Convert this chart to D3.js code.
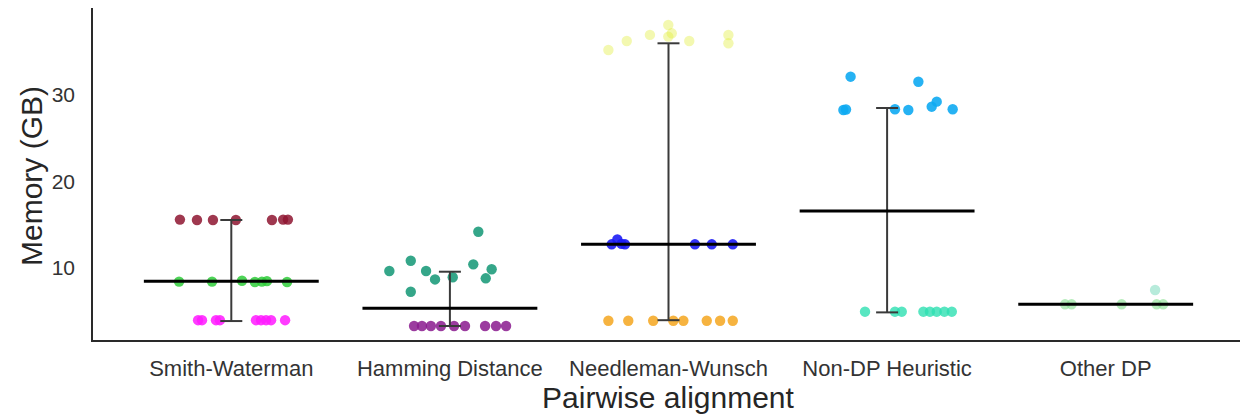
<!DOCTYPE html>
<html>
<head>
<meta charset="utf-8">
<script src="https://cdn.jsdelivr.net/npm/d3@7"></script>
<style>
  html, body { margin: 0; padding: 0; background: #ffffff; }
  svg { display: block; font-family: "Liberation Sans", Arial, sans-serif; }
</style>
</head>
<body>
<svg id="chart" width="1244" height="418"></svg>
<script>
// ---------- data ----------
const categories = ["Smith-Waterman", "Hamming Distance", "Needleman-Wunsch", "Non-DP Heuristic", "Other DP"];
const yTicks = [10, 20, 30];
const xTitle = "Pairwise alignment";
const yTitle = "Memory (GB)";

// central (median) value and whisker ends per category
const medians   = [8.5, 5.37, 12.75, 16.59, 5.83];
const whiskLow  = [3.9, 3.33, 4.0, 4.9, 5.83];
const whiskHigh = [15.55, 9.59, 35.93, 28.47, 5.83];

// individual points: [jitter (fraction of band), memory GB]
const swHigh = [[-0.235, 15.6], [-0.157, 15.55], [-0.084, 15.55], [0.021, 15.55], [0.186, 15.55], [0.237, 15.6], [0.259, 15.6]];
const swMid  = [[-0.239, 8.45], [-0.088, 8.45], [0.049, 8.55], [0.108, 8.4], [0.14, 8.45], [0.163, 8.5], [0.255, 8.4]];
const swLow  = [[-0.152, 4.0], [-0.134, 4.0], [-0.07, 4.0], [-0.052, 4.0], [0.113, 4.0], [0.136, 4.0], [0.159, 4.0], [0.182, 4.0], [0.246, 4.0]];

const hdHigh = [[-0.277, 9.67], [-0.179, 10.86], [-0.109, 9.67], [-0.068, 8.7], [-0.179, 7.28], [0.013, 8.95], [0.107, 10.44], [0.13, 14.2], [0.191, 9.87], [0.164, 8.83]];
const hdLow  = [[-0.164, 3.33], [-0.128, 3.33], [-0.087, 3.33], [-0.041, 3.33], [0.019, 3.33], [0.069, 3.33], [0.161, 3.33], [0.211, 3.33], [0.257, 3.33]];

const nwHigh = [[-0.275, 35.16], [-0.191, 36.2], [-0.085, 36.9], [-0.001, 38.04], [-0.001, 36.7], [0.015, 37.08], [0.095, 36.2], [0.274, 35.93], [0.274, 36.89]];
const nwMid  = [[-0.26, 12.75], [-0.234, 13.3], [-0.199, 12.75], [-0.215, 12.8], [0.121, 12.75], [0.198, 12.75], [0.294, 12.75]];
const nwLow  = [[-0.275, 3.94], [-0.184, 3.94], [-0.07, 3.94], [0.022, 3.94], [0.068, 3.94], [0.175, 3.94], [0.236, 3.94], [0.294, 3.94]];

const ndHigh = [[-0.167, 32.08], [0.143, 31.5], [-0.2, 28.24], [-0.188, 28.3], [0.036, 28.32], [0.097, 28.24], [0.204, 28.62], [0.227, 29.2], [0.3, 28.32]];
const ndLow  = [[-0.101, 4.98], [0.036, 4.98], [0.067, 4.98], [0.166, 4.98], [0.196, 4.98], [0.227, 4.98], [0.262, 4.98], [0.296, 4.98]];

const odMid  = [[-0.186, 5.83], [-0.156, 5.83], [0.073, 5.83], [0.233, 5.83], [0.263, 5.83]];
const odHigh = [[0.226, 7.48]];

const seriesNames = ["swHigh", "swMid", "swLow", "hdHigh", "hdLow", "nwHigh", "nwMid", "nwLow", "ndHigh", "ndLow", "odMid", "odHigh"];
const seriesCat   = [0, 0, 0, 1, 1, 2, 2, 2, 3, 3, 4, 4];
const seriesData  = [swHigh, swMid, swLow, hdHigh, hdLow, nwHigh, nwMid, nwLow, ndHigh, ndLow, odMid, odHigh];

// ---------- styles ----------
const seriesColor = {
  swHigh: "#8e1530", swMid: "#2fcc3a", swLow: "#ff1aff",
  hdHigh: "#1f9c7c", hdLow: "#8a1a8e",
  nwHigh: "#e2ee3a", nwMid: "#1c1cf5", nwLow: "#f4a010",
  ndHigh: "#0eaaf2", ndLow: "#2ee0b2",
  odMid: "#86e08e", odHigh: "#6fd8b8"
};
const seriesOpacity = {
  swHigh: 0.85, swMid: 0.85, swLow: 0.85, hdHigh: 0.9, hdLow: 0.85,
  nwHigh: 0.4, nwMid: 0.9, nwLow: 0.8, ndHigh: 0.9, ndLow: 0.8,
  odMid: 0.6, odHigh: 0.5
};

// ---------- layout ----------
const svg = d3.select("#chart");
const axisLeftX = 92, axisBottomY = 341, axisTopY = 8, axisRightX = 1240;

const x = d3.scaleBand().domain(categories).range([122, 1215]).paddingInner(0).paddingOuter(0);
const y = d3.scaleLinear().domain([1.6, 40]).range([axisBottomY, axisTopY]);
const bw = x.bandwidth();
const cx = i => x(categories[i]) + bw / 2;

// points
seriesNames.forEach((name, si) => {
  svg.append("g").selectAll("circle")
    .data(seriesData[si])
    .enter().append("circle")
    .attr("cx", d => cx(seriesCat[si]) + d[0] * bw)
    .attr("cy", d => y(d[1]))
    .attr("r", 5.2)
    .attr("fill", seriesColor[name])
    .attr("fill-opacity", seriesOpacity[name]);
});

// whiskers
const wg = svg.append("g");
categories.forEach((c, i) => {
  if (whiskHigh[i] - whiskLow[i] < 0.01) return;
  const xc = cx(i);
  wg.append("line").attr("x1", xc).attr("x2", xc).attr("y1", y(whiskLow[i])).attr("y2", y(whiskHigh[i]))
    .attr("stroke", "#3a3a3a").attr("stroke-width", 2);
  [whiskLow[i], whiskHigh[i]].forEach(v => {
    wg.append("line").attr("x1", xc - 11).attr("x2", xc + 11).attr("y1", y(v)).attr("y2", y(v))
      .attr("stroke", "#3a3a3a").attr("stroke-width", 2);
  });
});

// median lines
svg.append("g").selectAll("line")
  .data(medians)
  .enter().append("line")
  .attr("x1", (d, i) => cx(i) - 0.4 * bw)
  .attr("x2", (d, i) => cx(i) + 0.4 * bw)
  .attr("y1", d => y(d)).attr("y2", d => y(d))
  .attr("stroke", "#000").attr("stroke-width", 3);

// axes
const yAxis = d3.axisLeft(y).tickValues(yTicks).tickSize(0).tickPadding(17);
const gy = svg.append("g").attr("transform", `translate(${axisLeftX},0)`).call(yAxis);
gy.select(".domain").remove();
gy.selectAll("text").attr("font-size", 21).attr("fill", "#333").attr("font-family", "Liberation Sans, Arial, sans-serif");

const xAxis = d3.axisBottom(x).tickSize(0).tickPadding(19);
const gx = svg.append("g").attr("transform", `translate(0,${axisBottomY})`).call(xAxis);
gx.select(".domain").remove();
gx.selectAll("text").attr("font-size", 22).attr("fill", "#333").attr("font-family", "Liberation Sans, Arial, sans-serif");

// spines
svg.append("line").attr("x1", axisLeftX).attr("x2", axisLeftX).attr("y1", axisTopY).attr("y2", axisBottomY)
  .attr("stroke", "#2a2a2a").attr("stroke-width", 2);
svg.append("line").attr("x1", axisLeftX - 1).attr("x2", axisRightX).attr("y1", axisBottomY).attr("y2", axisBottomY)
  .attr("stroke", "#2a2a2a").attr("stroke-width", 2);

// titles
svg.append("text").attr("x", 668).attr("y", 408).attr("text-anchor", "middle")
  .attr("font-size", 30).attr("fill", "#262626").text(xTitle);
svg.append("text").attr("transform", "translate(42,176) rotate(-90)").attr("text-anchor", "middle")
  .attr("font-size", 30).attr("fill", "#262626").text(yTitle);
</script>
</body>
</html>
